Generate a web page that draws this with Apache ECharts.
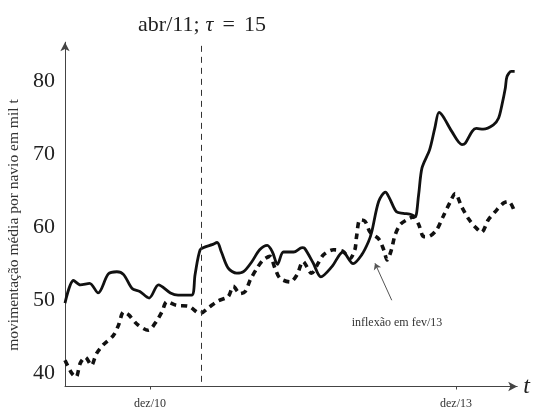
<!DOCTYPE html>
<html>
<head>
<meta charset="utf-8">
<script src="https://cdn.jsdelivr.net/npm/echarts@6/dist/echarts.min.js"></script>
<style>
  html, body { margin: 0; padding: 0; background: #fff; }
  #chart { width: 533px; height: 410px; }
</style>
</head>
<body>
<div id="chart"></div>
<script>
// Time axis in months counted from jan/10 = 0 (dez/10 = 11, dez/13 = 47)
const xTickValues = [11, 47];
const xTickLabels = ['dez/10', 'dez/13'];
const yTicks = [40, 50, 60, 70, 80];

// Moving average, solid curve
const solidT = [1.0, 2.0, 2.8, 3.9, 4.9, 6.1, 7.1, 7.9, 8.9, 9.8, 10.9, 12.0, 13.4, 14.3, 15.9, 16.3, 16.9, 17.5,
  18.3, 18.9, 19.4, 20.2, 21.2, 22.0, 23.0, 23.9, 24.8, 25.4, 26.0, 26.7, 27.9, 28.9, 29.2, 30.2, 31.1, 32.4,
  33.7, 34.9, 35.9, 36.7, 37.1, 37.9, 38.7, 39.2, 40.0, 40.8, 41.8, 42.2, 42.6, 43.0, 43.9, 44.5, 45.0, 45.5,
  46.5, 47.7, 48.1, 48.9, 49.4, 50.2, 51.4, 52.0, 52.4, 52.8, 53.0, 53.5, 53.9];
const solidV = [49.6, 52.7, 52.1, 52.3, 51.0, 53.6, 53.9, 53.5, 51.6, 51.2, 50.3, 52.1, 51.0, 50.7, 50.7, 53.5, 56.9, 57.3,
  57.6, 57.9, 56.6, 54.4, 53.7, 53.9, 55.3, 56.9, 57.5, 56.6, 54.9, 56.6, 56.6, 57.2, 57.1, 55.1, 53.2, 54.6,
  56.6, 55.0, 56.2, 58.0, 59.4, 63.5, 64.8, 63.9, 62.1, 61.9, 61.7, 61.4, 64.4, 68.1, 70.6, 73.5, 75.7, 75.1,
  73.1, 71.3, 71.5, 73.1, 73.5, 73.4, 74.0, 74.9, 76.7, 79.0, 80.6, 81.3, 81.3];

// Comparison series, dashed curve
const dashedT = [1.0, 1.8, 2.3, 2.8, 3.4, 4.1, 4.7, 5.5, 6.7, 7.3, 7.9, 8.5, 9.5, 10.8, 11.8, 12.4, 13.0, 14.1, 15.5,
  16.9, 17.9, 19.0, 20.2, 20.8, 21.6, 22.2, 22.8, 23.6, 24.3, 25.1, 25.7, 26.3, 27.5, 28.3, 29.0, 30.0, 30.8,
  31.4, 32.6, 33.7, 34.5, 35.1, 35.3, 35.7, 36.3, 36.9, 37.9, 38.5, 38.9, 39.4, 39.8, 40.4, 41.2, 42.0, 42.6,
  43.2, 43.7, 44.7, 45.5, 46.3, 46.9, 47.7, 48.5, 49.2, 50.0, 50.8, 51.6, 52.6, 53.2, 53.9];
const dashedV = [41.8, 40.0, 39.5, 41.4, 42.2, 41.1, 42.7, 43.9, 45.2, 46.6, 48.4, 48.0, 46.7, 45.9, 47.2, 48.4, 49.8, 49.3, 49.2,
  48.2, 49.0, 49.9, 50.5, 51.9, 50.9, 51.2, 52.8, 54.4, 55.5, 56.0, 54.4, 53.0, 52.5, 53.5, 55.3, 53.7, 55.1,
  56.2, 56.9, 56.7, 55.7, 56.9, 58.7, 61.0, 60.8, 59.3, 58.4, 56.9, 55.5, 56.9, 58.8, 60.3, 61.0, 61.4, 60.4,
  58.7, 58.7, 59.6, 61.5, 63.4, 64.6, 62.7, 61.1, 60.1, 59.3, 61.0, 62.1, 63.3, 63.5, 62.1];

// Reference date marker and annotation
const markerT = 17.06;
const markerRange = [84.8, 38.2];
const arrowFrom = [39.44, 50.0];
const arrowTo = [37.47, 55.05];
const noteAt = [40.06, 46.9];
const noteText = 'inflexão em fev/13';

const serif = '"Liberation Serif", "DejaVu Serif", serif';
const ink = '#222';
const pair = (ts, vs) => ts.map((t, i) => [t, vs[i]]);

const chart = echarts.init(document.getElementById('chart'), null, { renderer: 'canvas' });

const titleFont = { fontFamily: serif, fontSize: 22, fontWeight: 'normal', color: ink };

chart.setOption({
  backgroundColor: '#fff',
  animation: false,
  title: {
    text: '{n|abr/11;}{i|τ}{e|=}{n|15}',
    left: 197,
    top: 9,
    textAlign: 'center',
    textStyle: {
      fontWeight: 'normal',
      rich: {
        n: titleFont,
        i: Object.assign({}, titleFont, { fontStyle: 'italic', padding: [0, 0, 0, 6] }),
        e: Object.assign({}, titleFont, { padding: [0, 9, 0, 9] })
      }
    }
  },
  grid: { left: 65, right: 15.8, top: 42.2, bottom: 23.5, containLabel: false, outerBoundsMode: 'none' },
  xAxis: {
    type: 'value',
    min: 1,
    max: 54.2,
    axisLine: { show: true, symbol: ['none', 'arrow'], symbolSize: [7, 9], lineStyle: { color: '#444', width: 1 } },
    axisTick: { show: true, customValues: xTickValues, length: 3, lineStyle: { color: '#444' } },
    axisLabel: {
      customValues: xTickValues,
      formatter: v => xTickLabels[xTickValues.indexOf(v)] || '',
      fontFamily: serif, fontSize: 12, color: '#333', margin: 11
    },
    splitLine: { show: false },
    name: 't',
    nameLocation: 'end',
    nameGap: 6,
    nameTextStyle: { fontFamily: serif, fontStyle: 'italic', fontSize: 24, color: ink }
  },
  yAxis: {
    type: 'value',
    min: 38.2,
    max: 85.3,
    axisLine: { show: true, symbol: ['none', 'arrow'], symbolSize: [7, 9], lineStyle: { color: '#444', width: 1 } },
    axisTick: { show: false },
    splitLine: { show: false },
    axisLabel: {
      customValues: yTicks,
      fontFamily: serif, fontSize: 22, color: ink, margin: 10
    }
  },
  graphic: [{
    type: 'text',
    x: 14,
    y: 225,
    rotation: Math.PI / 2,
    style: {
      text: 'movimentação média por navio em mil t',
      fontFamily: serif,
      fontSize: 15.5,
      fill: '#333',
      align: 'center',
      verticalAlign: 'middle'
    }
  }],
  series: [
    {
      type: 'line',
      data: pair(solidT, solidV),
      showSymbol: false,
      smooth: 0.3,
      lineStyle: { color: '#111', width: 2.8 },
      z: 3,
      markLine: {
        silent: true,
        symbol: ['none', 'none'],
        label: { show: false },
        data: [
          [
            { coord: [markerT, markerRange[0]], lineStyle: { type: [6, 5], color: '#333', width: 1 } },
            { coord: [markerT, markerRange[1]] }
          ],
          [
            { coord: arrowFrom, symbol: 'none', lineStyle: { type: 'solid', color: '#555', width: 1 } },
            { coord: arrowTo, symbol: 'arrow', symbolSize: 6 }
          ]
        ]
      },
      markPoint: {
        silent: true,
        data: [{
          coord: noteAt,
          symbol: 'circle',
          symbolSize: 1,
          itemStyle: { color: 'transparent' },
          label: { show: true, position: 'inside', formatter: noteText, fontFamily: serif, fontSize: 12, color: '#333' }
        }]
      }
    },
    {
      type: 'line',
      data: pair(dashedT, dashedV),
      showSymbol: false,
      smooth: 0.3,
      lineStyle: { color: '#111', width: 3.6, type: [6, 5] },
      z: 2
    }
  ]
});
</script>
</body>
</html>
